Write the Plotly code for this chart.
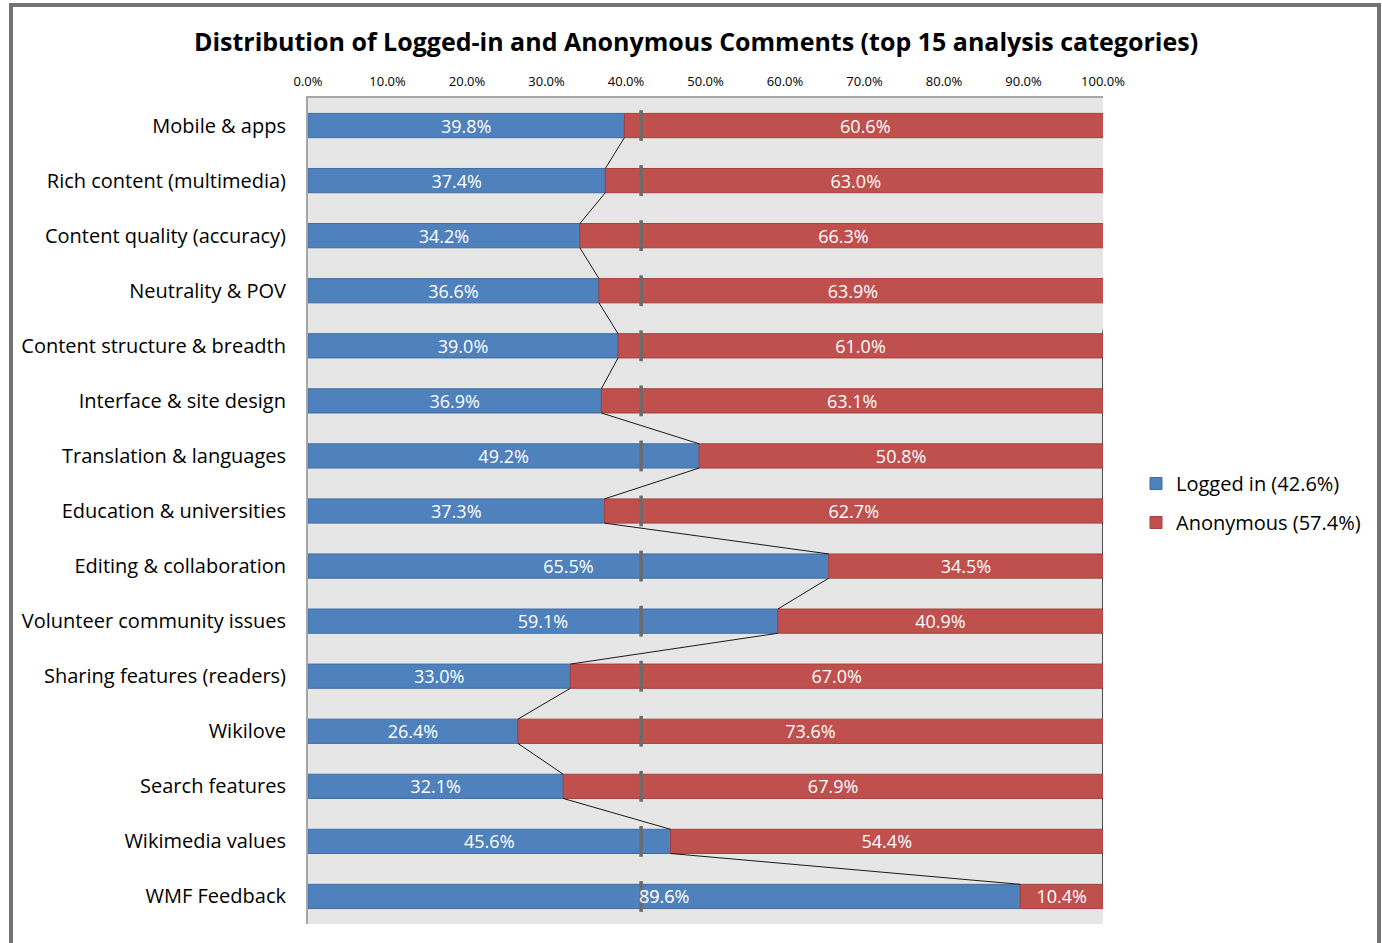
import plotly.graph_objects as go

categories = [
    "Mobile & apps", "Rich content (multimedia)", "Content quality (accuracy)",
    "Neutrality & POV", "Content structure & breadth", "Interface & site design",
    "Translation & languages", "Education & universities", "Editing & collaboration",
    "Volunteer community issues", "Sharing features (readers)", "Wikilove",
    "Search features", "Wikimedia values", "WMF Feedback",
]
logged_in = [39.8, 37.4, 34.2, 36.6, 39.0, 36.9, 49.2, 37.3, 65.5, 59.1, 33.0, 26.4, 32.1, 45.6, 89.6]
anonymous = [60.6, 63.0, 66.3, 63.9, 61.0, 63.1, 50.8, 62.7, 34.5, 40.9, 67.0, 73.6, 67.9, 54.4, 10.4]
avg_mark = 41.9
tick_vals = [0, 10, 20, 30, 40, 50, 60, 70, 80, 90, 100]

W, H = 1382, 943
L, R, T, B = 308, 1103, 98, 924
BLUE, RED = "#4F81BD", "#C0504D"
FONT = "Open Sans"
BAR_W = 0.44

ypos = list(range(len(categories)))

fig = go.Figure()
fig.add_trace(go.Bar(
    y=ypos, x=logged_in, orientation="h", name="Logged in (42.6%)",
    marker=dict(color=BLUE, line=dict(color="#3E6DA5", width=1)),
    width=BAR_W, text=[f"{v:.1f}%" for v in logged_in], textposition="inside",
    insidetextanchor="middle", textangle=0, constraintext="none",
    textfont=dict(color="white", size=18, family=FONT), legendgroup="a",
))
fig.add_trace(go.Bar(
    y=ypos, x=anonymous, base=logged_in, orientation="h", name="Anonymous (57.4%)",
    marker=dict(color=RED, line=dict(color="#A5403D", width=1)),
    width=BAR_W, text=[f"{v:.1f}%" for v in anonymous], textposition="inside",
    insidetextanchor="middle", textangle=0, constraintext="none",
    textfont=dict(color="white", size=18, family=FONT), legendgroup="b",
))

# average marks
fig.add_trace(go.Scatter(
    x=[avg_mark] * len(ypos), y=ypos, mode="markers", showlegend=False, hoverinfo="skip",
    marker=dict(symbol="line-ns", size=22, line=dict(width=3.5, color="#6B6B6B")),
))

# series lines connecting segment ends
def series_line(ends):
    xs, ys = [], []
    for i in range(len(ends) - 1):
        xs += [ends[i], ends[i + 1], None]
        ys += [i + BAR_W / 2, i + 1 - BAR_W / 2, None]
    return xs, ys

sx, sy = series_line(logged_in)
fig.add_trace(go.Scatter(x=sx, y=sy, mode="lines", showlegend=False, hoverinfo="skip",
                         line=dict(color="#1a1a1a", width=1)))
totals = [a + b for a, b in zip(logged_in, anonymous)]
tx, ty = series_line(totals)
fig.add_trace(go.Scatter(x=tx, y=ty, mode="lines", showlegend=False, hoverinfo="skip",
                         line=dict(color="#1a1a1a", width=1.5)))

# duplicated label artefact on last bar
fig.add_annotation(x=logged_in[-1] / 2, y=ypos[-1], text="89.6", showarrow=False,
                   xshift=-7, font=dict(color="#EEEEEE", size=18, family=FONT))

def px(x):
    return (x - L) / (R - L)

def py(y):
    return (B - y) / (B - T)

fig.add_shape(type="rect", xref="paper", yref="paper",
              x0=px(11), x1=px(1379), y0=py(960), y1=py(5),
              line=dict(color="#737373", width=4), fillcolor="rgba(0,0,0,0)")

fig.update_layout(
    width=W, height=H, autosize=False,
    margin=dict(l=L, r=W - R, t=T, b=H - B, pad=0),
    paper_bgcolor="white", plot_bgcolor="#E6E6E6",
    barmode="overlay", bargap=0.5,
    font=dict(family=FONT, color="black"),
    title=dict(text="<b>Distribution of Logged-in and Anonymous Comments (top 15 analysis categories)</b>",
               x=696 / W, xanchor="center", xref="container",
               y=1 - 42 / H, yanchor="middle", yref="container",
               font=dict(size=25, family=FONT, color="black")),
    xaxis=dict(range=[0, 100], side="top", tickvals=tick_vals,
               ticktext=[f"{v:.1f}%" for v in tick_vals],
               tickfont=dict(size=13, family=FONT, color="black"),
               showgrid=False, zeroline=False, showline=True, linecolor="#A6A6A6", linewidth=2,
               ticks="", ticklabelstandoff=5, fixedrange=True),
    yaxis=dict(range=[len(categories) - 0.5, -0.5], tickvals=ypos, ticktext=categories,
               tickfont=dict(size=20, family=FONT, color="black"),
               showgrid=False, zeroline=False, showline=True, linecolor="#A6A6A6", linewidth=2,
               ticks="", ticklabelstandoff=16, fixedrange=True),
    legend=dict(x=px(1136), y=py(464), xanchor="left", yanchor="top",
                font=dict(size=20, family=FONT, color="black"),
                tracegroupgap=10, itemwidth=30, bgcolor="rgba(0,0,0,0)"),
    showlegend=True,
)

fig.write_html("out.html", config={"displayModeBar": False},
               post_script="document.body.style.margin='0';")
